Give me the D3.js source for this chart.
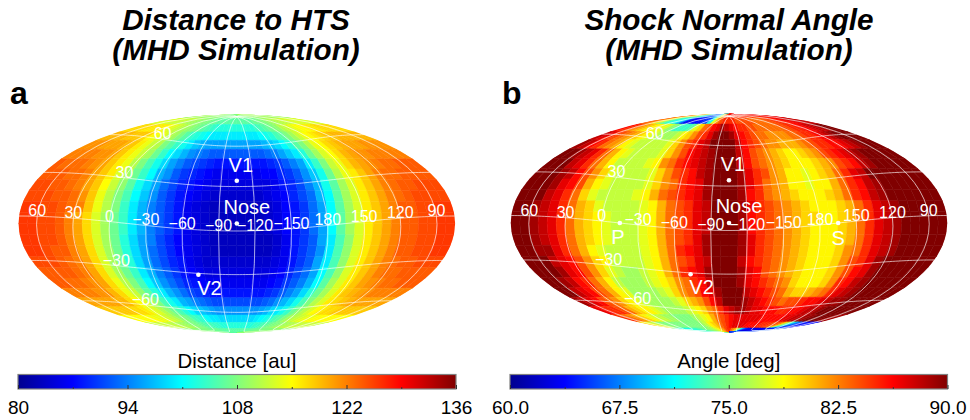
<!DOCTYPE html>
<html>
<head>
<meta charset="utf-8">
<script src="https://cdn.jsdelivr.net/npm/d3@7"></script>
<style>
  body { margin: 0; background: #fff; }
  text { font-family: "Liberation Sans", Arial, sans-serif; }
</style>
</head>
<body>
<div id="chart"></div>
<script>
// jet colour stops
const jetStops = [0, 0.125, 0.375, 0.625, 0.875, 1];
const jetColors = ["#00008f", "#0000ff", "#00ffff", "#ffff00", "#ff0000", "#800000"];

// graticule labels
const lonLabels = [60, 30, 0, -30, -60, -90, -120, -150, 180, 150, 120, 90];
const latLabels = [60, 30, -30, -60];

// colour bar ticks
const distanceTicks = [80, 94, 108, 122, 136];
const distanceMinor = [87, 101, 115, 129];
const angleTicks = [60, 67.5, 75, 82.5, 90];
const angleMinor = [63.75, 71.25, 78.75, 86.25];

// markers, ecliptic lon / lat
const distanceMarkers = [
  { name: "V1", lon: -105, lat: 34 },
  { name: "V2", lon: -71, lat: -31 },
  { name: "Nose", lon: -105, lat: 5 }
];
const angleMarkers = distanceMarkers.concat([
  { name: "P", lon: -15, lat: 0 },
  { name: "S", lon: 165, lat: 0 }
]);

// Distance to HTS [au], rows from top of the map, columns from left
const distanceRows = [
[110,110,110,110,110,110,110,110,110,109,109,109,109,109,109,109,108,108,108,108,108,108,108,108,108,108,108,108,108,108,108,109,109,109,109,109,110,110,110,110,110,110,110,110,110,110,110,110],
[113,113,113,113,113,112,112,112,111,111,110,110,109,109,108,108,107,107,106,106,106,106,106,106,106,106,106,106,106,107,107,108,108,109,110,110,111,111,112,112,112,113,113,113,113,113,113,113],
[117,117,117,117,116,116,116,115,114,113,112,111,110,109,108,107,106,105,104,103,103,103,103,103,103,103,103,103,104,105,106,107,108,109,111,112,113,114,115,115,116,116,116,117,117,117,117,117],
[119,119,119,119,118,118,118,117,115,114,113,111,110,108,106,104,103,102,101,100,100,100,100,100,100,100,100,100,101,102,103,105,106,108,110,112,114,115,116,117,118,118,119,119,119,119,119,119],
[121,121,121,120,120,120,119,118,116,114,112,111,108,106,104,102,100,98,97,96,96,96,96,96,96,96,96,96,97,98,99,101,103,106,108,111,114,115,117,118,119,120,120,120,121,121,121,121],
[122,122,122,122,121,121,120,118,116,114,112,110,107,104,101,99,97,95,94,93,92,92,92,92,92,92,92,92,93,94,96,98,100,103,107,110,113,115,117,119,120,121,121,122,122,122,122,122],
[124,123,123,123,122,121,120,118,116,114,111,108,105,102,99,96,94,92,91,90,89,88,88,88,88,88,88,88,89,90,92,94,96,100,104,108,112,114,117,119,120,121,122,123,123,124,124,124],
[124,124,124,123,123,122,120,118,116,113,110,107,104,101,97,95,92,90,89,88,87,86,86,86,86,86,86,87,87,89,90,92,95,98,102,107,111,114,116,118,120,122,123,123,124,124,124,124],
[125,125,124,124,123,122,120,118,115,112,109,106,102,99,96,93,91,89,88,87,86,85,85,85,85,85,85,85,86,88,89,91,94,97,102,106,110,113,116,118,120,122,123,124,124,125,125,125],
[125,125,125,124,124,123,121,118,114,111,108,105,101,98,95,92,90,88,87,86,85,84,84,84,84,84,84,85,86,87,89,91,93,97,101,106,110,113,116,118,120,122,123,124,125,125,125,125],
[126,126,125,125,124,123,122,118,114,111,108,104,100,97,94,92,90,88,86,85,84,83,83,83,83,83,83,84,85,87,88,90,93,96,101,106,110,113,116,118,120,122,124,124,125,125,126,126],
[126,126,125,125,124,122,120,117,113,110,107,104,100,97,94,92,90,88,86,85,84,83,83,83,83,83,83,84,85,87,88,90,93,96,101,106,110,113,116,118,120,122,124,124,125,125,126,126],
[126,126,125,125,124,122,120,117,113,110,107,104,100,97,94,92,90,88,86,85,84,83,83,83,83,83,83,84,85,87,88,90,93,96,101,106,110,113,116,118,120,122,124,124,125,125,126,126],
[126,126,125,125,124,122,120,117,113,110,107,103,99,96,94,91,89,87,86,85,84,83,83,83,83,83,83,83,84,86,88,90,92,96,100,105,109,113,116,118,120,122,124,124,125,125,126,126],
[126,126,125,124,124,122,120,117,113,110,107,103,99,96,93,91,89,87,86,85,84,83,83,83,83,83,83,83,84,86,88,90,92,95,100,105,109,113,116,118,120,122,124,124,125,125,126,126],
[125,125,125,124,123,122,120,117,113,110,107,103,99,96,93,91,89,88,86,85,84,84,84,84,84,84,84,84,85,86,88,90,92,96,100,105,109,113,116,118,120,122,123,124,124,125,125,125],
[124,124,124,124,123,122,120,117,113,110,107,104,100,97,94,92,90,88,87,86,85,85,85,85,85,85,85,85,86,87,89,91,93,96,101,105,109,113,116,118,120,122,123,123,124,124,124,124],
[124,124,123,123,122,121,120,117,114,111,108,105,101,98,95,93,91,89,88,87,86,86,86,86,86,86,86,86,87,88,90,92,94,97,101,106,110,113,116,118,120,121,122,123,123,124,124,124],
[122,122,122,122,121,121,119,117,114,112,109,106,103,100,97,95,93,91,90,89,88,88,88,88,88,88,88,88,89,90,92,94,96,99,103,107,110,113,116,118,119,120,121,122,122,122,122,122],
[120,120,120,120,120,119,119,117,115,113,110,108,105,102,100,97,96,94,93,92,91,91,91,91,91,91,91,91,92,93,95,97,99,102,105,108,111,113,116,117,118,119,120,120,120,120,120,120],
[118,118,118,118,118,117,117,116,114,113,111,109,107,105,103,101,99,98,97,96,95,95,95,95,95,95,95,95,96,97,99,100,102,104,107,109,111,113,115,116,117,117,118,118,118,118,118,118],
[115,115,115,115,115,115,114,114,113,112,111,109,108,107,105,104,103,101,100,100,99,99,99,99,99,99,99,99,100,101,102,103,105,106,108,110,111,112,113,114,114,115,115,115,115,115,115,115],
[112,112,112,112,112,112,111,111,110,110,109,108,108,107,106,105,105,104,104,103,103,103,103,103,103,103,103,103,103,104,104,105,106,107,108,108,109,110,110,111,111,112,112,112,112,112,112,112],
[109,109,109,109,109,109,109,108,108,108,108,108,107,107,107,107,106,106,106,106,106,106,106,106,106,106,106,106,106,106,106,107,107,107,107,108,108,108,108,108,108,109,109,109,109,109,109,109]
];

// Shock normal angle [deg], same layout
const angleRows = [
[84,83,82,81,80,78,77,76,75,74,72,70,68,66,66,66,67,68,71,75,79,82,84,85,85,85,85,85,85,85,85,85,85,85,85,85,85,85,85,85,85,85,86,86,86,86,87,87],
[84,83,82,80,78,75,73,72,72,71,68,64,63,64,64,64,65,66,72,78,82,84,85,85,85,85,84,84,84,84,84,83,83,83,83,83,84,84,85,85,85,86,86,87,87,88,88,88],
[86,85,84,82,81,80,79,79,78,78,76,75,73,73,73,74,78,80,83,84,86,87,89,88,87,86,85,85,84,84,83,83,83,83,83,83,84,84,85,85,86,86,87,88,88,89,90,90],
[88,87,85,84,83,82,81,80,79,78,77,76,76,76,77,79,80,82,84,85,87,89,90,90,89,87,86,85,84,83,83,82,82,82,82,83,83,84,85,85,86,87,88,89,90,90,90,90],
[89,88,86,85,83,82,81,79,78,77,77,77,77,77,78,80,82,84,85,87,88,90,90,90,90,88,86,85,84,83,82,82,81,81,81,82,83,84,85,85,86,86,87,88,89,90,90,90],
[90,90,89,88,87,85,83,81,79,78,77,77,77,77,78,80,82,84,86,87,88,89,90,90,90,88,86,84,83,82,81,80,79,79,80,81,82,84,85,86,87,88,89,90,90,90,90,90],
[90,90,90,88,87,85,83,81,79,77,77,77,77,78,79,82,83,85,86,87,88,89,90,90,90,88,86,84,83,82,81,80,79,79,79,80,81,82,84,85,86,88,89,90,90,90,90,90],
[90,90,90,89,88,86,84,82,80,78,77,77,77,77,78,80,82,84,85,86,88,89,90,90,90,89,87,85,84,82,81,79,79,78,79,80,81,83,85,87,88,90,90,90,90,90,90,90],
[90,90,90,89,87,86,84,81,79,78,77,77,77,77,78,80,82,83,85,86,87,89,90,90,90,89,87,85,83,82,81,79,79,78,79,79,81,83,85,86,88,89,90,90,90,90,90,90],
[90,90,90,88,87,85,83,80,78,77,77,77,77,78,79,81,83,84,85,86,87,89,90,90,90,89,86,85,83,82,81,80,79,79,79,80,81,83,85,86,88,89,90,90,90,90,90,90],
[90,90,89,88,87,85,83,81,80,78,77,77,77,77,78,79,81,83,84,85,87,88,90,90,90,89,87,85,84,83,82,81,80,79,79,79,80,81,83,85,87,88,89,90,90,90,90,90],
[90,90,89,88,87,85,83,81,80,79,78,77,77,77,78,79,81,83,84,85,87,88,90,90,90,89,86,85,84,83,82,81,80,80,79,79,80,81,83,85,87,88,89,90,90,90,90,90],
[90,90,89,88,87,85,83,81,80,79,78,77,77,77,78,79,81,83,84,85,87,88,90,90,90,89,86,85,84,83,82,81,80,79,79,79,80,81,83,85,87,88,89,90,90,90,90,90],
[90,90,89,88,87,85,83,81,80,79,78,77,77,77,78,79,81,83,84,85,87,89,90,90,90,89,87,85,84,83,82,81,80,79,79,79,80,81,83,85,87,88,89,90,90,90,90,90],
[90,90,89,89,87,85,83,81,79,78,77,77,77,77,78,79,81,83,85,86,87,89,90,90,90,89,87,85,84,83,82,81,80,79,79,79,80,82,83,85,87,88,89,90,90,90,90,90],
[90,90,90,88,87,86,84,82,80,79,77,77,77,77,78,79,81,83,84,85,87,88,90,90,90,88,86,85,84,83,82,81,80,79,79,79,80,82,84,85,87,89,90,90,90,90,90,90],
[90,90,90,89,87,86,84,82,80,78,77,76,76,77,78,79,81,83,85,86,87,89,90,90,90,89,87,86,84,83,82,81,80,79,79,79,80,82,84,86,87,89,90,90,90,90,90,90],
[90,90,89,88,86,85,83,81,79,77,76,76,76,77,78,79,80,82,83,85,86,88,90,90,90,89,87,86,85,84,83,82,80,79,79,79,80,82,85,86,88,89,90,90,90,90,90,90],
[90,90,88,87,86,84,83,81,79,78,76,76,76,76,77,78,80,82,83,84,86,87,89,90,90,90,88,87,86,85,84,83,81,80,80,81,82,83,85,87,88,89,90,90,90,90,90,90],
[89,88,87,86,84,83,82,80,79,78,77,76,76,76,76,77,78,80,81,82,84,86,88,90,90,90,89,88,87,86,85,84,83,84,84,85,86,86,87,88,89,89,90,90,90,90,90,90],
[87,86,85,85,84,83,81,80,79,79,78,77,76,76,76,76,77,78,79,80,82,83,85,87,88,89,89,88,87,87,86,86,86,85,85,86,86,87,88,88,89,90,90,90,90,90,90,90],
[85,84,83,82,81,80,79,78,77,77,76,76,75,75,75,75,76,77,78,79,81,83,84,85,86,87,87,87,87,87,87,86,86,86,86,86,87,87,88,88,89,89,90,90,90,90,89,89],
[80,79,78,77,76,75,75,75,75,75,75,75,75,75,75,75,76,77,79,80,81,83,84,85,86,87,87,87,87,86,86,86,86,85,85,85,84,84,83,80,75,72,68,66,65,64,64,64],
[75,74,73,72,72,72,72,72,73,73,73,74,74,75,75,76,76,77,78,79,81,82,84,85,85,83,82,80,76,72,68,65,64,63,63,63,63,63,63,63,63,63,64,64,65,66,66,67]
];

const font = '"Liberation Sans", Arial, sans-serif';
const jet = d3.scaleLinear().domain(jetStops).range(jetColors);

const svg = d3.select("#chart").append("svg")
  .attr("width", 970)
  .attr("height", 420);

// Mollweide, d3 core does not have it
function mollweideRaw(lambda, phi) {
  let theta = phi;
  if (Math.abs(phi) > Math.PI / 2 - 1e-6) {
    theta = Math.sign(phi) * Math.PI / 2;
  } else {
    for (let i = 0; i < 30; i++) {
      const delta = (2 * theta + Math.sin(2 * theta) - Math.PI * Math.sin(phi)) / (2 + 2 * Math.cos(2 * theta));
      theta -= delta;
      if (Math.abs(delta) < 1e-8) break;
    }
  }
  return [2 * Math.SQRT2 / Math.PI * lambda * Math.cos(theta), Math.SQRT2 * Math.sin(theta)];
}

function drawMap(id, cx, cy, rows, domain, markers, offsets) {
  const base = () => d3.geoProjection(mollweideRaw)
    .scale(77.2)
    .translate([cx, cy])
    .precision(0.3)
    .reflectX(true);
  // cells live in the map frame, the grid is ecliptic with the nose in the centre
  const cellProj = base().rotate([0, 0]);
  const gridProj = base().rotate([105, -5]);
  const cellPath = d3.geoPath(cellProj);
  const gridPath = d3.geoPath(gridProj);
  const colorPos = d3.scaleLinear().domain(domain).range([0, 1]);
  const color = v => jet(colorPos(v));

  svg.append("clipPath").attr("id", "clip-" + id)
    .append("path").attr("d", cellPath({ type: "Sphere" }));

  const latScale = d3.scaleBand().domain(d3.range(rows.length)).range([89.99, -89.99]);
  const cells = [];
  rows.forEach((row, r) => {
    // x goes right on the page, so the map longitude is mirrored
    const lonScale = d3.scaleBand().domain(d3.range(row.length)).range([179.99, -179.99]);
    row.forEach((v, c) => {
      const l = lonScale(c), h = l + lonScale.bandwidth();
      const lo = latScale(r), hi = lo + latScale.bandwidth();
      cells.push({
        value: v,
        geo: { type: "Polygon", coordinates: [[[l, lo], [l, hi], [h, hi], [h, lo], [l, lo]]] }
      });
    });
  });

  const g = svg.append("g");
  g.append("g").attr("clip-path", `url(#clip-${id})`)
    .selectAll("path").data(cells).enter().append("path")
    .attr("d", d => cellPath(d.geo))
    .attr("fill", d => color(d.value))
    .attr("stroke", d => color(d.value))
    .attr("stroke-width", 0.5);

  // graticule
  g.append("path")
    .attr("d", gridPath(d3.geoGraticule().extent([[-180, -90], [180, 90.01]]).step([30, 30])()))
    .attr("fill", "none")
    .attr("stroke", "#fff")
    .attr("stroke-opacity", 0.8)
    .attr("stroke-width", 0.8);

  // longitude labels along the equator
  g.selectAll(".lon").data(lonLabels).enter().append("text")
    .attr("class", "lon")
    .attr("x", d => gridProj([d, 0])[0])
    .attr("y", d => gridProj([d, 0])[1])
    .attr("text-anchor", "middle")
    .attr("font-size", 16)
    .attr("fill", "#fff")
    .text(d => String(d).replace("-", "\u2212"));

  // latitude labels along lon 0
  g.selectAll(".lat").data(latLabels).enter().append("text")
    .attr("class", "lat")
    .attr("x", d => gridProj([0, d])[0])
    .attr("y", d => gridProj([0, d])[1])
    .attr("text-anchor", "middle")
    .attr("font-size", 16)
    .attr("fill", "#fff")
    .text(d => String(d).replace("-", "\u2212"));

  // markers
  g.selectAll(".dot").data(markers).enter().append("circle")
    .attr("class", "dot")
    .attr("cx", d => gridProj([d.lon, d.lat])[0])
    .attr("cy", d => gridProj([d.lon, d.lat])[1])
    .attr("r", 2.3)
    .attr("fill", "#fff");

  g.selectAll(".mark").data(markers).enter().append("text")
    .attr("class", "mark")
    .attr("x", d => gridProj([d.lon, d.lat])[0] + offsets[d.name][0])
    .attr("y", d => gridProj([d.lon, d.lat])[1] + offsets[d.name][1])
    .attr("text-anchor", "middle")
    .attr("font-size", 20)
    .attr("fill", "#fff")
    .text(d => d.name);
}

function drawColorbar(id, x0, x1, domain, ticks, minor, format, label) {
  const top = 374.5, bottom = 389;
  const x = d3.scaleLinear().domain(domain).range([x0, x1]);

  const grad = svg.append("defs").append("linearGradient").attr("id", "grad-" + id);
  jetStops.forEach((s, i) => {
    grad.append("stop").attr("offset", s * 100 + "%").attr("stop-color", jetColors[i]);
  });

  svg.append("rect")
    .attr("x", x0).attr("y", top)
    .attr("width", x1 - x0).attr("height", bottom - top)
    .attr("fill", `url(#grad-${id})`)
    .attr("stroke", "#808080")
    .attr("stroke-width", 1.2);

  const major = svg.append("g").attr("transform", `translate(0,${bottom})`)
    .call(d3.axisBottom(x).tickValues(ticks).tickSizeInner(-4).tickSizeOuter(0).tickPadding(11.5).tickFormat(format));
  major.select(".domain").remove();
  major.selectAll("line").attr("stroke", "#333");
  major.selectAll("text")
    .attr("font-size", 19)
    .attr("font-family", font)
    .attr("fill", "#000");

  const small = svg.append("g").attr("transform", `translate(0,${bottom})`)
    .call(d3.axisBottom(x).tickValues(minor).tickSizeInner(-2).tickSizeOuter(0).tickFormat(""));
  small.select(".domain").remove();
  small.selectAll("line").attr("stroke", "#333");

  svg.append("text")
    .attr("x", (x0 + x1) / 2)
    .attr("y", 368)
    .attr("text-anchor", "middle")
    .attr("font-size", 20.4)
    .text(label);
}

function addTitle(cx, lines, letter, letterX) {
  lines.forEach((t, i) => {
    svg.append("text")
      .attr("x", cx)
      .attr("y", 29.5 + i * 30)
      .attr("text-anchor", "middle")
      .attr("font-size", 29.7)
      .attr("font-weight", "bold")
      .attr("font-style", "italic")
      .text(t);
  });
  svg.append("text")
    .attr("x", letterX)
    .attr("y", 104)
    .attr("font-size", 32)
    .attr("font-weight", "bold")
    .text(letter);
}

drawMap("a", 236.8, 223.5, distanceRows, [80, 136], distanceMarkers,
  { V1: [4, -9], V2: [11, 20], Nose: [10, -10] });
drawMap("b", 729, 223, angleRows, [60, 90], angleMarkers,
  { V1: [4, -9], V2: [11, 20], Nose: [10, -10], P: [-2, 21], S: [0, 22] });

drawColorbar("a", 18, 456, [80, 136], distanceTicks, distanceMinor, d3.format("d"), "Distance [au]");
drawColorbar("b", 510, 947.5, [60, 90], angleTicks, angleMinor, d3.format(".1f"), "Angle [deg]");

addTitle(236, ["Distance to HTS", "(MHD Simulation)"], "a", 10);
addTitle(729, ["Shock Normal Angle", "(MHD Simulation)"], "b", 502);
</script>
</body>
</html>
